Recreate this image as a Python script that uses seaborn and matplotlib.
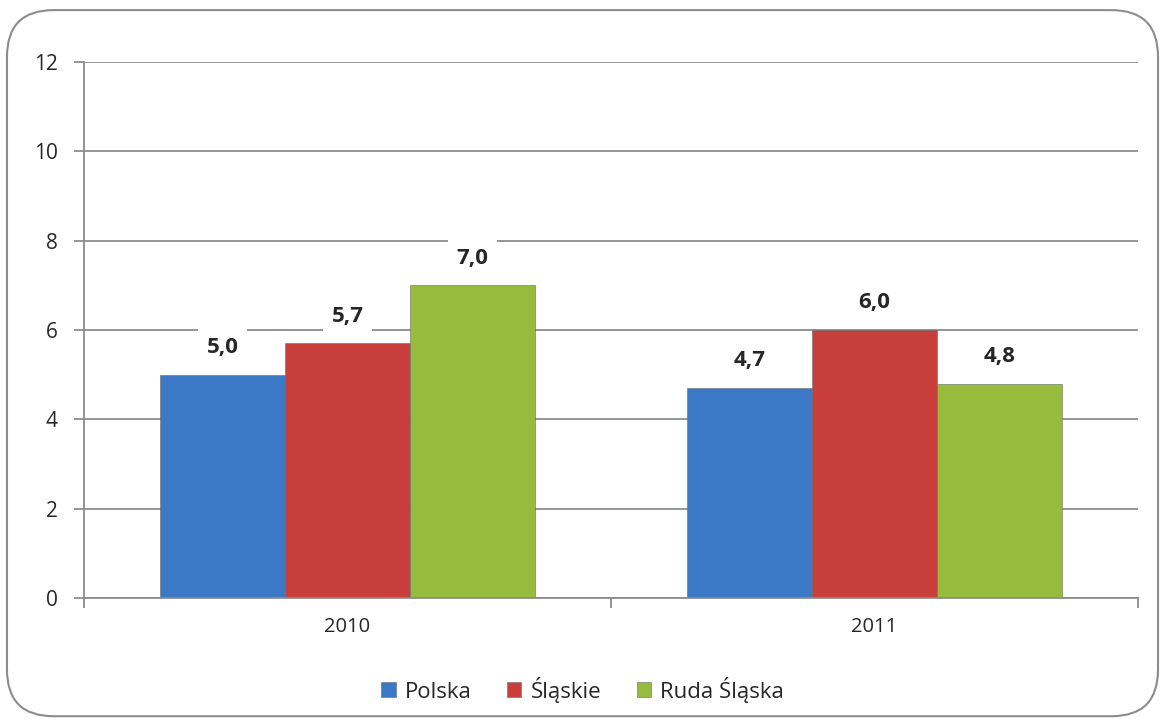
import matplotlib
matplotlib.use("Agg")
import matplotlib.pyplot as plt
import seaborn as sns
import pandas as pd
from matplotlib.patches import FancyBboxPatch, Patch

years = ["2010", "2011"]
series = ["Polska", "Śląskie", "Ruda Śląska"]
polska = [5.0, 4.7]
slaskie = [5.7, 6.0]
ruda = [7.0, 4.8]
colors = ["#3b78c6", "#c83e3a", "#97bb3c"]

rows = []
for s, vals in zip(series, [polska, slaskie, ruda]):
    for y, v in zip(years, vals):
        rows.append({"year": y, "series": s, "value": v})
df = pd.DataFrame(rows)

sns.set_style("white")
plt.rcParams["font.family"] = ["Open Sans", "DejaVu Sans"]

fig = plt.figure(figsize=(11.65, 7.22), dpi=100)
ax = fig.add_axes([0.0721, 0.1717, 0.9047, 0.7424])

sns.barplot(data=df, x="year", y="value", hue="series", order=years,
            hue_order=series, palette=colors, saturation=1, width=0.71, ax=ax,
            edgecolor="#6a6a6a", linewidth=0.4, legend=False, errorbar=None)

ax.set_ylim(0, 12)
ax.set_xlim(-0.5, 1.5)
ax.set_yticks(range(0, 13, 2))
ax.yaxis.grid(True, color="#8c8c8c", linewidth=1.3)
ax.set_axisbelow(True)
for sp in ["top", "right"]:
    ax.spines[sp].set_visible(False)
for sp in ["left", "bottom"]:
    ax.spines[sp].set_color("#8c8c8c")
    ax.spines[sp].set_linewidth(1.3)
ax.set_xlabel("")
ax.set_ylabel("")
ax.tick_params(axis="y", which="major", length=7, width=1.3, color="#8c8c8c",
               labelsize=15, pad=12, left=True)
ax.tick_params(axis="x", which="major", length=0, labelsize=14.5, pad=14)
ax.set_xticks([-0.5, 0.5, 1.5], minor=True)
ax.tick_params(axis="x", which="minor", length=7, width=1.3, color="#8c8c8c", bottom=True)

for cont in ax.containers:
    labels = [f"{b.get_height():.1f}".replace(".", ",") for b in cont]
    ax.bar_label(cont, labels=labels, padding=12, fontsize=16, fontweight="bold",
                 bbox=dict(facecolor="white", edgecolor="none", pad=6))

handles = [Patch(facecolor=c, edgecolor="#6a6a6a", linewidth=0.4) for c in colors]
fig.legend(handles, series, loc="center", bbox_to_anchor=(0.5, 0.045), ncol=3,
           frameon=False, fontsize=16, handlelength=0.65, handleheight=0.65,
           columnspacing=1.6, handletextpad=0.4)

frame = FancyBboxPatch((0.006, 0.008), 0.988, 0.978, boxstyle="round,pad=0,rounding_size=0.04",
                       transform=fig.transFigure, facecolor="none", edgecolor="#8c8c8c",
                       linewidth=1.5, mutation_aspect=1165/722)
fig.patches.append(frame)

fig.savefig("out.png", dpi=100)
